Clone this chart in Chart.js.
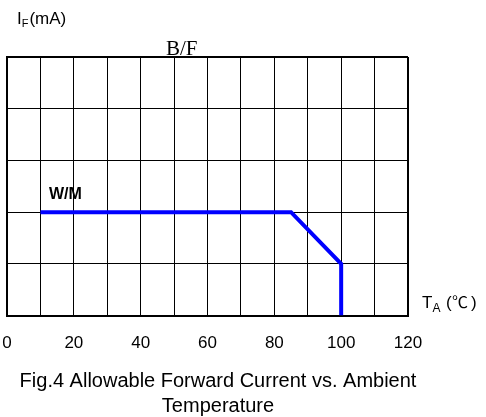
<!DOCTYPE html>
<html><head><meta charset="utf-8">
<script src="https://cdn.jsdelivr.net/npm/chart.js@4/dist/chart.umd.min.js"></script>
<style>html,body{margin:0;padding:0;background:#fff}#wrap{width:486px;height:417px;position:relative}</style>
</head><body><div id="wrap"><canvas id="c" width="486" height="417"></canvas></div>
<script>
const temperatureC = [10, 85, 100, 100];
const forwardCurrent = [2, 2, 1, 0];
const xTickLabels = ['0', '20', '40', '60', '80', '100', '120'];
const seriesLabel = 'W/M';
const panelLabel = 'B/F';
const captionLines = ['Fig.4 Allowable Forward Current vs. Ambient', 'Temperature'];

const SANS = '"Liberation Sans", Arial, sans-serif';

const textPlugin = {
  id: 'texts',
  afterDraw(chart) {
    const ctx = chart.ctx;
    ctx.save();
    ctx.fillStyle = '#000';
    ctx.textBaseline = 'alphabetic';
    ctx.textAlign = 'left';
    // y-axis title I_F(mA)
    ctx.font = '17px ' + SANS;
    ctx.fillText('I', 17, 24);
    let w = ctx.measureText('I').width;
    ctx.font = '11px ' + SANS;
    ctx.fillText('F', 17 + w, 27);
    let w2 = ctx.measureText('F').width;
    ctx.font = '17px ' + SANS;
    ctx.fillText('(mA)', 17 + w + w2 + 1, 24);
    // panel label
    ctx.font = '21px "Liberation Serif", "Times New Roman", serif';
    ctx.fillText(panelLabel, 166, 55);
    // series label
    ctx.font = 'bold 16px ' + SANS;
    ctx.fillText(seriesLabel, 49, 199);
    // x axis title T_A (℃)
    ctx.font = '17px ' + SANS;
    ctx.fillText('T', 422, 308);
    w = ctx.measureText('T').width;
    ctx.font = '12px ' + SANS;
    ctx.fillText('A', 422 + w, 312);
    ctx.font = '17px ' + SANS;
    ctx.fillText('(', 446, 308);
    ctx.fillText(')', 471, 308);
    ctx.font = '16px "Noto Sans CJK SC", sans-serif';
    ctx.fillText('\u2103', 452, 308);
    // caption
    ctx.textAlign = 'center';
    ctx.font = '20px ' + SANS;
    ctx.fillText(captionLines[0], 218, 387);
    ctx.fillText(captionLines[1], 218, 412);
    ctx.restore();
  }
};

new Chart(document.getElementById('c'), {
  type: 'line',
  data: {
    datasets: [{
      label: seriesLabel,
      data: temperatureC.map((x, i) => ({ x: x, y: forwardCurrent[i] })),
      borderColor: '#0000ff',
      borderWidth: 4,
      pointRadius: 0,
      fill: false,
      tension: 0
    }]
  },
  options: {
    responsive: false,
    animation: false,
    devicePixelRatio: 1,
    layout: { padding: { left: 7, top: 57, right: 78, bottom: 60 } },
    plugins: { legend: { display: false }, tooltip: { enabled: false } },
    scales: {
      x: {
        type: 'linear', min: 0, max: 120,
        afterFit: (s) => { s.paddingLeft = 0; },
        ticks: {
          stepSize: 10, autoSkip: false, maxRotation: 0, padding: 3,
          color: '#000', font: { family: SANS, size: 17 },
          callback: (v) => xTickLabels.includes(String(v)) ? String(v) : ''
        },
        grid: {
          color: '#000', drawTicks: true, tickLength: 15, tickColor: 'rgba(0,0,0,0)',
          lineWidth: (c) => (c.index === 12 ? 2 : 1)
        },
        border: { color: '#000', width: 2 }
      },
      y: {
        type: 'linear', min: 0, max: 5,
        ticks: { stepSize: 1, display: false },
        grid: {
          color: '#000', drawTicks: false,
          lineWidth: (c) => (c.index === 5 ? 2 : 1)
        },
        border: { color: '#000', width: 2 }
      }
    }
  },
  plugins: [textPlugin]
});
</script></body></html>
